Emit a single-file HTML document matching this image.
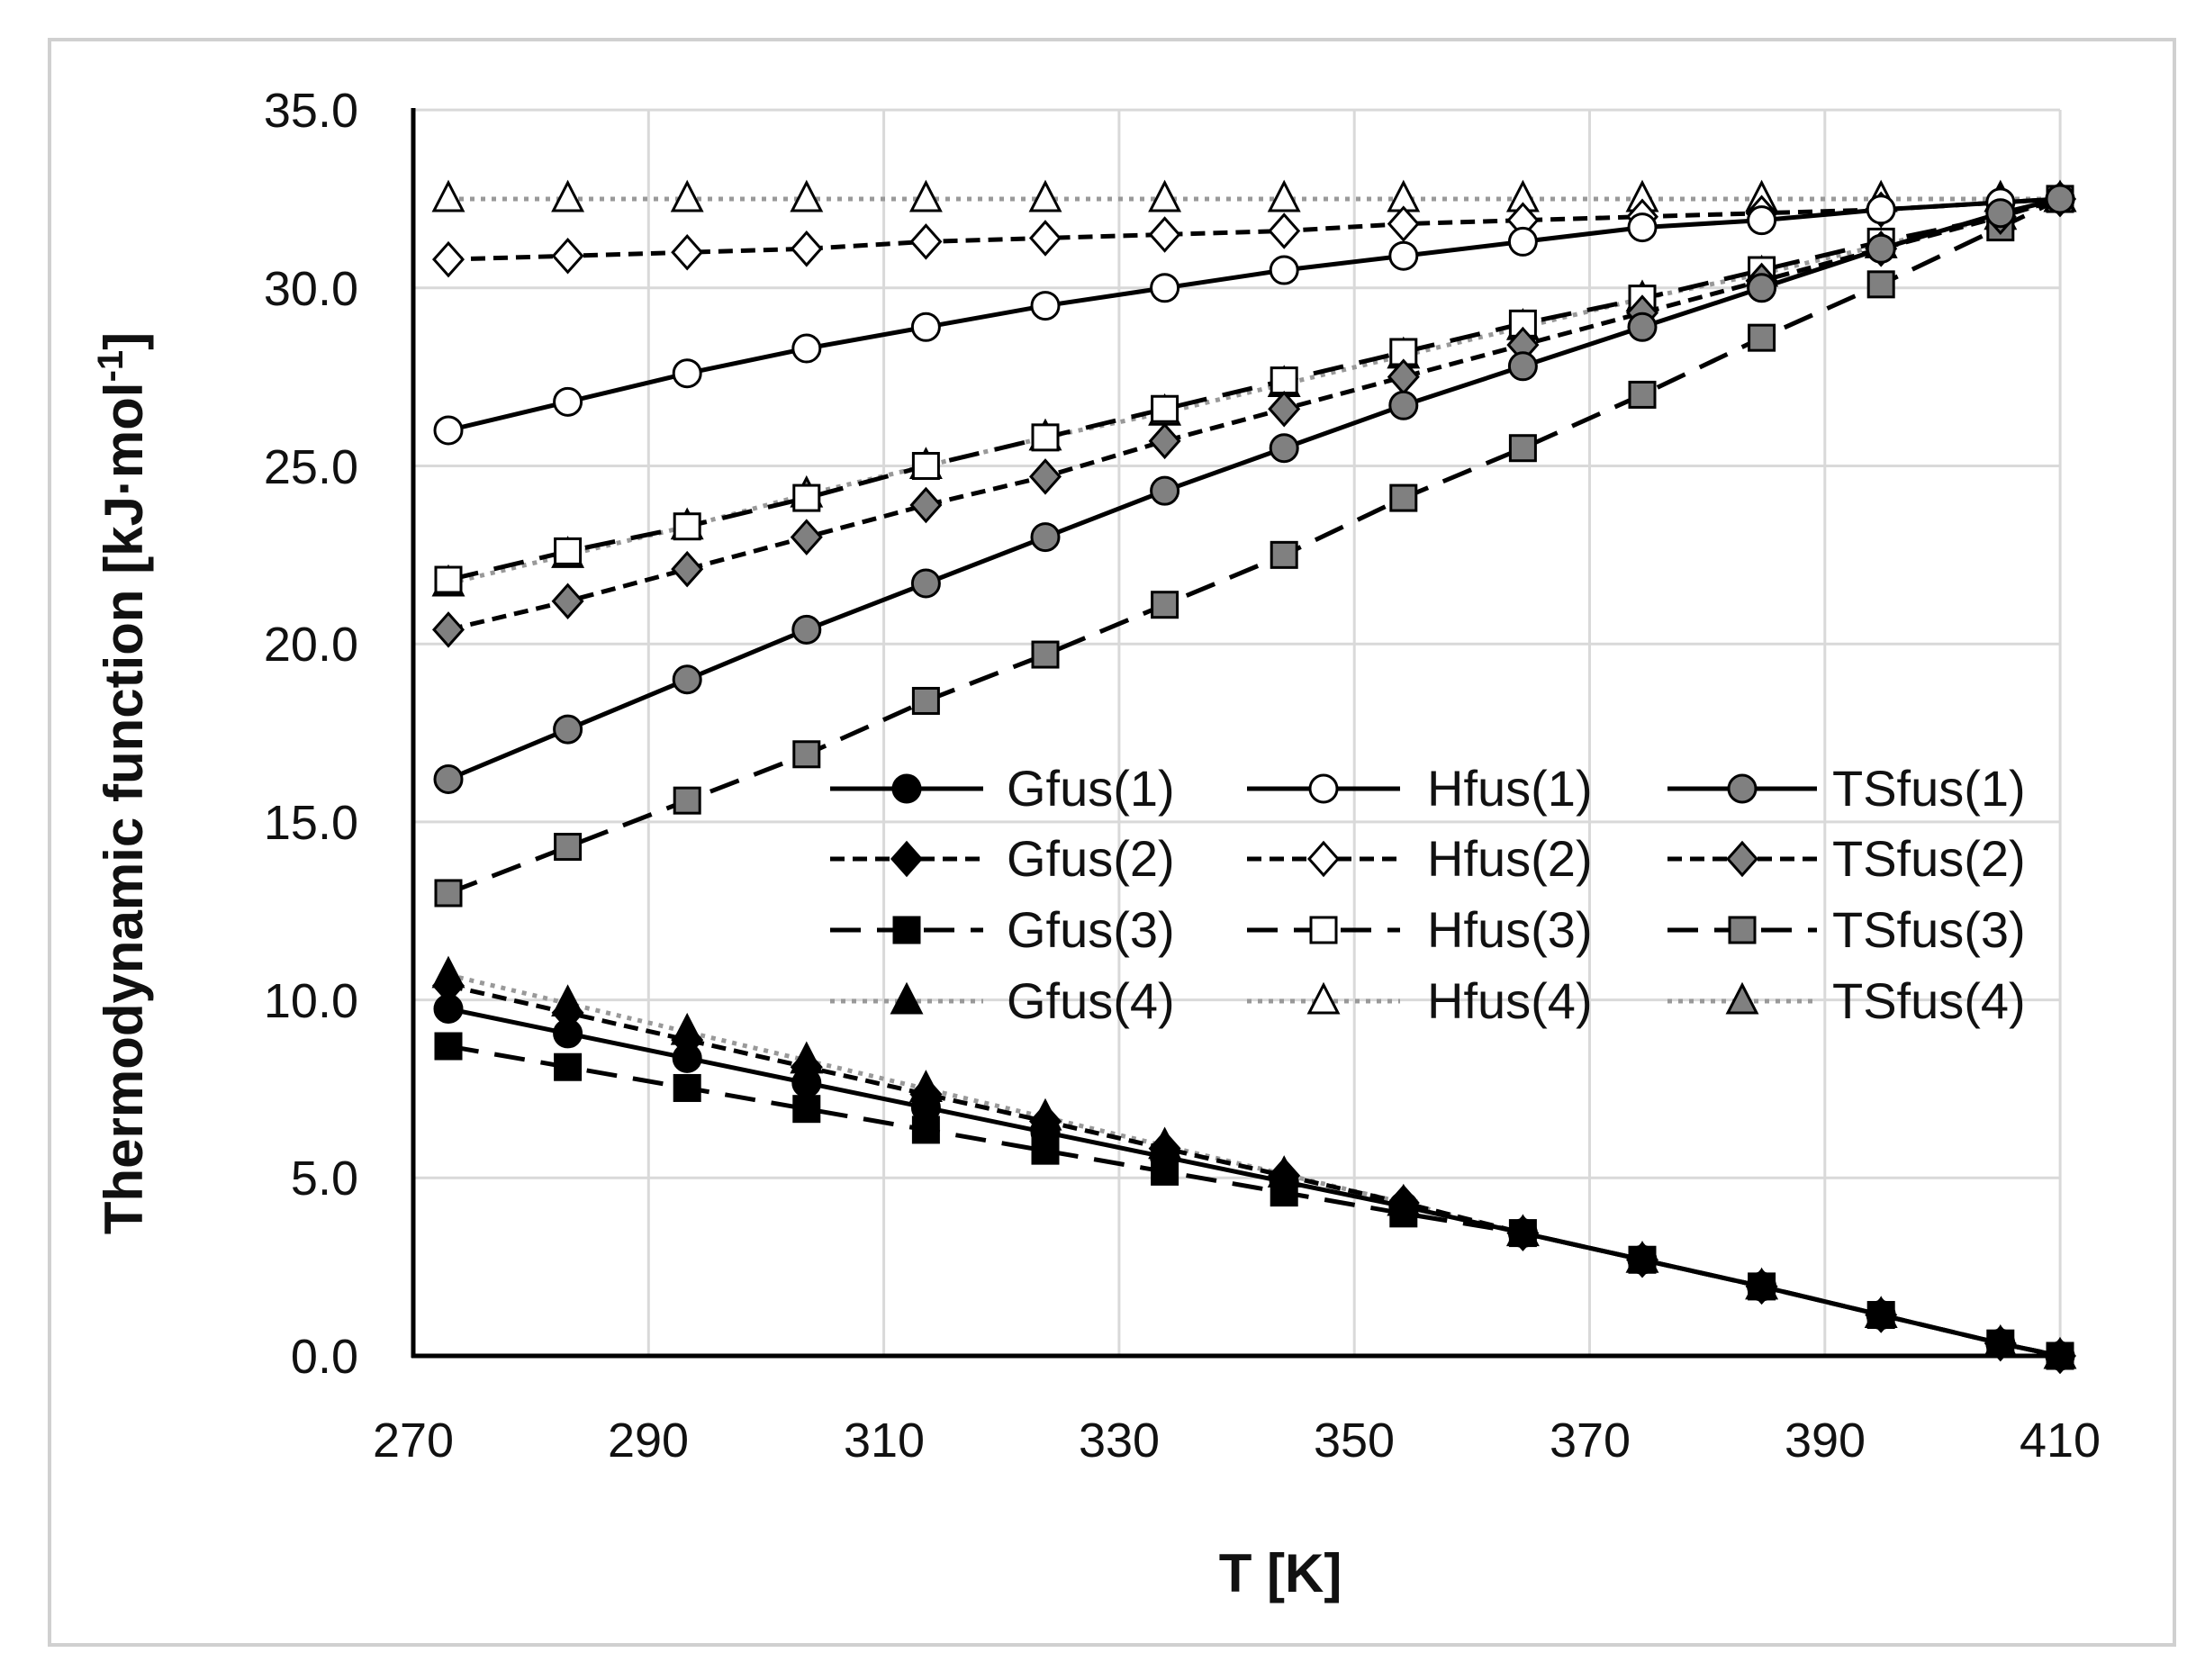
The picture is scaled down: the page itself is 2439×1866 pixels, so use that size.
<!DOCTYPE html>
<html><head><meta charset="utf-8"><style>
html,body{margin:0;padding:0;background:#fff;}
svg{display:block;font-family:"Liberation Sans",sans-serif;}
</style></head><body>
<svg id="s" width="2439" height="1866" viewBox="0 0 2439 1866" xmlns="http://www.w3.org/2000/svg">
<rect x="0" y="0" width="2439" height="1866" fill="#fff"/>
<rect x="55" y="44" width="2360" height="1783" fill="#fff" stroke="#d0d0d0" stroke-width="4"/>
<g id="grid" stroke="#d9d9d9" stroke-width="3"></g>
<g id="series"></g>
<g stroke="#000" stroke-width="5" fill="none">
<line x1="459" y1="120" x2="459" y2="1508"/>
<line x1="457" y1="1506" x2="2290" y2="1506"/>
</g>
<g font-size="54" fill="#111" text-anchor="end">
<text x="398" y="1525">0.0</text>
<text x="398" y="1327">5.0</text>
<text x="398" y="1130">10.0</text>
<text x="398" y="932">15.0</text>
<text x="398" y="734">20.0</text>
<text x="398" y="537">25.0</text>
<text x="398" y="339">30.0</text>
<text x="398" y="141">35.0</text>
</g>
<g font-size="54" fill="#111" text-anchor="middle">
<text x="459" y="1618">270</text>
<text x="720" y="1618">290</text>
<text x="982" y="1618">310</text>
<text x="1243" y="1618">330</text>
<text x="1504" y="1618">350</text>
<text x="1766" y="1618">370</text>
<text x="2027" y="1618">390</text>
<text x="2288" y="1618">410</text>
</g>
<text x="1422" y="1768" font-size="60" font-weight="bold" text-anchor="middle" fill="#111">T [K]</text>
<text transform="translate(158,870) rotate(-90)" font-size="60" font-weight="bold" text-anchor="middle" fill="#111">Thermodynamic function [kJ·mol<tspan dy="-22" font-size="40">-1</tspan><tspan dy="22">]</tspan></text>
<g id="legend" font-size="56" fill="#111">
<text x="1118" y="895">Gfus(1)</text><text x="1585" y="895">Hfus(1)</text><text x="2035" y="895">TSfus(1)</text>
<text x="1118" y="973">Gfus(2)</text><text x="1585" y="973">Hfus(2)</text><text x="2035" y="973">TSfus(2)</text>
<text x="1118" y="1052">Gfus(3)</text><text x="1585" y="1052">Hfus(3)</text><text x="2035" y="1052">TSfus(3)</text>
<text x="1118" y="1131">Gfus(4)</text><text x="1585" y="1131">Hfus(4)</text><text x="2035" y="1131">TSfus(4)</text>
</g>
</svg>
<script>
var NS="http://www.w3.org/2000/svg";
function el(p,t,a){var e=document.createElementNS(NS,t);for(var k in a)e.setAttribute(k,a[k]);p.appendChild(e);return e;}
var grid=document.getElementById('grid');
for(var i=1;i<=7;i++){var y=1506-i*197.7;el(grid,'line',{x1:459,y1:y,x2:2288,y2:y});}
for(var i=1;i<=7;i++){var x=459+i*261.3;el(grid,'line',{x1:x,y1:122,x2:x,y2:1506});}
var X=[];for(var i=0;i<14;i++)X.push(498+i*132.6);X.push(2288);
function Y(v){return 1506-v*39.54;}
var common=[4.2,3.45,2.7,1.95,1.15,0.35,0];
function G(g0,g8){var r=[];for(var i=0;i<8;i++)r.push(g0+(g8-g0)*i/8);for(var j=0;j<7;j++)r.push(j==0?g8:common[j]);return r;}
var S=[
 {v:G(9.75,4.2),m:'o',f:'#000',d:'',c:'#000'},
 {v:[26.0,26.8,27.6,28.3,28.9,29.5,30.0,30.5,30.9,31.3,31.7,31.9,32.2,32.4,32.5],m:'o',f:'#fff',d:'',c:'#000'},
 {v:[16.2,17.6,19.0,20.4,21.7,23.0,24.3,25.5,26.7,27.8,28.9,30.0,31.1,32.1,32.5],m:'o',f:'#808080',d:'',c:'#000'},
 {v:G(10.4,4.3),m:'d',f:'#000',d:'16 9',c:'#000'},
 {v:[30.8,30.9,31.0,31.1,31.3,31.4,31.5,31.6,31.8,31.9,32.0,32.1,32.2,32.4,32.5],m:'d',f:'#fff',d:'16 9',c:'#000'},
 {v:[20.4,21.2,22.1,23.0,23.9,24.7,25.7,26.6,27.5,28.4,29.3,30.2,31.1,32.0,32.5],m:'d',f:'#808080',d:'16 9',c:'#000'},
 {v:G(8.7,4.0),m:'s',f:'#000',d:'34 18',c:'#000'},
 {v:[21.8,22.6,23.3,24.1,25.0,25.8,26.6,27.4,28.2,29.0,29.7,30.5,31.3,32.0,32.5],m:'s',f:'#fff',d:'34 18',c:'#000'},
 {v:[13.0,14.3,15.6,16.9,18.4,19.7,21.1,22.5,24.1,25.5,27.0,28.6,30.1,31.7,32.5],m:'s',f:'#808080',d:'34 18',c:'#000'},
 {v:G(10.7,4.3),m:'t',f:'#000',d:'5 7',c:'#999'},
 {v:[32.5,32.5,32.5,32.5,32.5,32.5,32.5,32.5,32.5,32.5,32.5,32.5,32.5,32.5,32.5],m:'t',f:'#fff',d:'5 7',c:'#999'},
 {v:[21.7,22.5,23.3,24.2,25.0,25.8,26.5,27.3,28.1,28.9,29.7,30.4,31.2,32.0,32.5],m:'t',f:'#808080',d:'5 7',c:'#999'}
];
function marker(g,m,x,y,f){
 var a={fill:f,stroke:'#000','stroke-width':3};
 if(m=='o'){a.cx=x;a.cy=y;a.r=15;el(g,'circle',a);}
 else if(m=='s'){a.x=x-14;a.y=y-14;a.width=28;a.height=28;el(g,'rect',a);}
 else if(m=='d'){a.points=(x)+','+(y-18)+' '+(x+16)+','+y+' '+x+','+(y+18)+' '+(x-16)+','+y;el(g,'polygon',a);}
 else {a.points=x+','+(y-18)+' '+(x+16)+','+(y+13)+' '+(x-16)+','+(y+13);el(g,'polygon',a);}
}
var sg=document.getElementById('series'),lg=document.getElementById('legend');
var order=[10,11,7,8,4,5,1,2,9,6,0,3];
order.forEach(function(k){var s=S[k];var pts=s.v.map(function(v,i){return X[i]+','+Y(v);}).join(' ');
 var a={points:pts,fill:'none',stroke:s.c,'stroke-width':5};if(s.d)a['stroke-dasharray']=s.d;el(sg,'polyline',a);});
order.forEach(function(k){var s=S[k];s.v.forEach(function(v,i){marker(sg,s.m,X[i],Y(v),s.f);});});
var cols=[[922,1092,1007],[1385,1555,1470],[1852,2018,1935]],rows=[876,954,1033,1112];
S.forEach(function(s,k){var r=Math.floor(k/3),c=k%3;var cc=cols[c],y=rows[r];
 var a={x1:cc[0],y1:y,x2:cc[1],y2:y,stroke:s.c,'stroke-width':5};if(s.d)a['stroke-dasharray']=s.d;el(lg,'line',a);
 marker(lg,s.m,cc[2],y,s.f);});
</script>
</body></html>
